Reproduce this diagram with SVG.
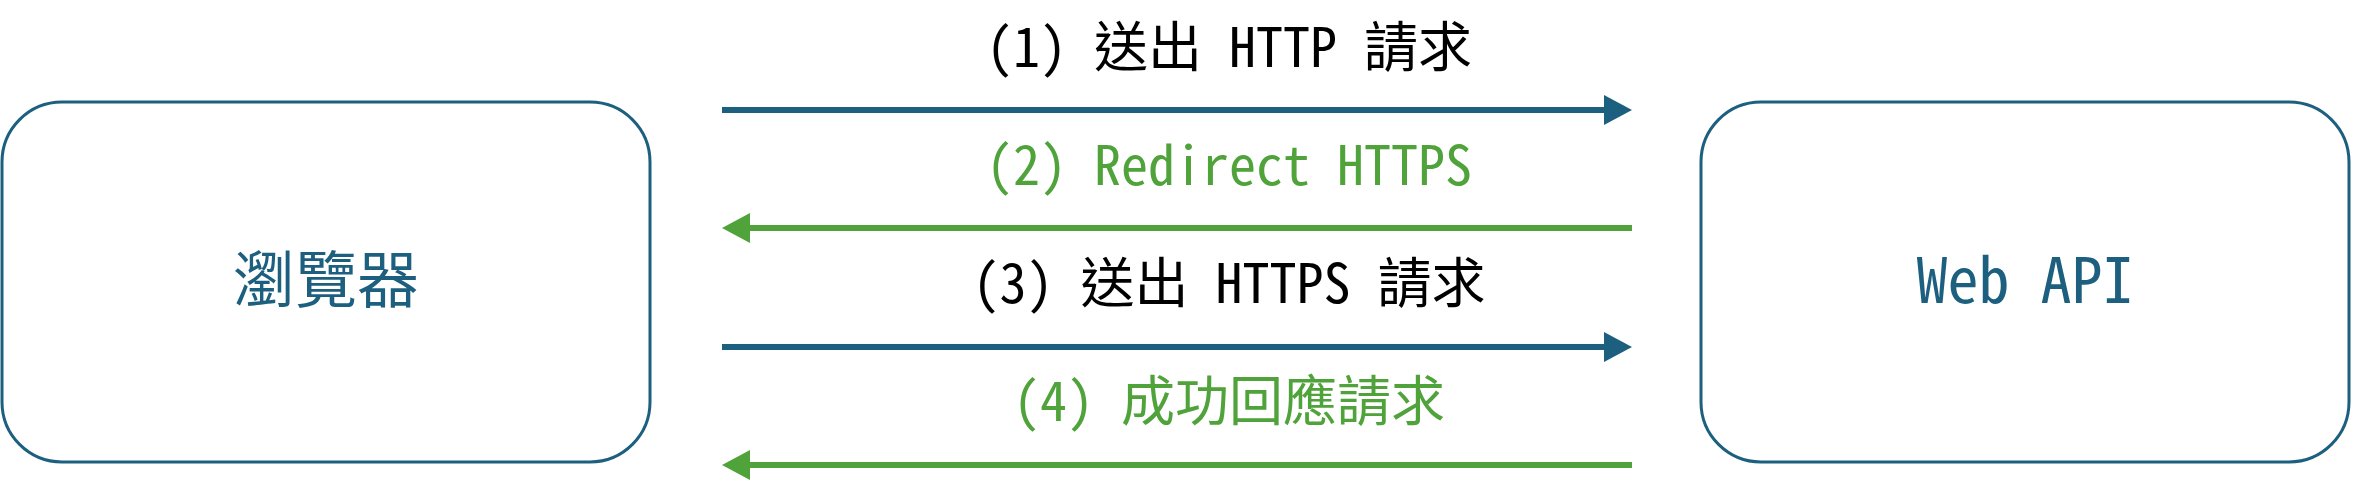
<svg xmlns="http://www.w3.org/2000/svg" width="2353" height="493" viewBox="0 0 2353 493">
<style>
.node{fill:#ffffff;stroke:#1d5f7f;stroke-width:3}
.ntext{font-family:"Noto Sans Mono CJK TC","Noto Sans CJK TC",monospace;font-size:62px;fill:#1d5f7f;text-anchor:middle}
.ltext{font-family:"Noto Sans Mono CJK TC","Noto Sans CJK TC",monospace;font-size:54px;text-anchor:middle}
.blue{stroke:#1d5f7f;stroke-width:6;fill:none}
.green{stroke:#4fa33a;stroke-width:6;fill:none}
</style>
<defs>
<marker id="ab" markerUnits="userSpaceOnUse" markerWidth="28" markerHeight="30" refX="4" refY="15" orient="auto" viewBox="0 0 28 30">
<path d="M0,0 L28,15 L0,30 Z" fill="#1d5f7f"/>
</marker>
<marker id="ag" markerUnits="userSpaceOnUse" markerWidth="28" markerHeight="30" refX="4" refY="15" orient="auto" viewBox="0 0 28 30">
<path d="M0,0 L28,15 L0,30 Z" fill="#4fa33a"/>
</marker>
</defs>
<rect width="2353" height="493" fill="#ffffff"/>
<g id="browser">
<rect class="node" x="2" y="102" width="648" height="360" rx="60" ry="60"/>
<text class="ntext" x="326" y="303">瀏覽器</text>
</g>
<g id="webapi">
<rect class="node" x="1701" y="102" width="648" height="360" rx="60" ry="60"/>
<text class="ntext" x="2025" y="303">Web API</text>
</g>
<g id="connectors">
<line class="blue" x1="722" y1="110" x2="1608" y2="110" marker-end="url(#ab)"/>
<line class="green" x1="1632" y1="228" x2="746" y2="228" marker-end="url(#ag)"/>
<line class="blue" x1="722" y1="347" x2="1608" y2="347" marker-end="url(#ab)"/>
<line class="green" x1="1632" y1="465" x2="746" y2="465" marker-end="url(#ag)"/>
<text class="ltext" x="1229" y="67" fill="#000000">(1) 送出 HTTP 請求</text>
<text class="ltext" x="1229" y="185" fill="#4fa33a">(2) Redirect HTTPS</text>
<text class="ltext" x="1229" y="303" fill="#000000">(3) 送出 HTTPS 請求</text>
<text class="ltext" x="1229" y="421" fill="#4fa33a">(4) 成功回應請求</text>
</g>
</svg>
